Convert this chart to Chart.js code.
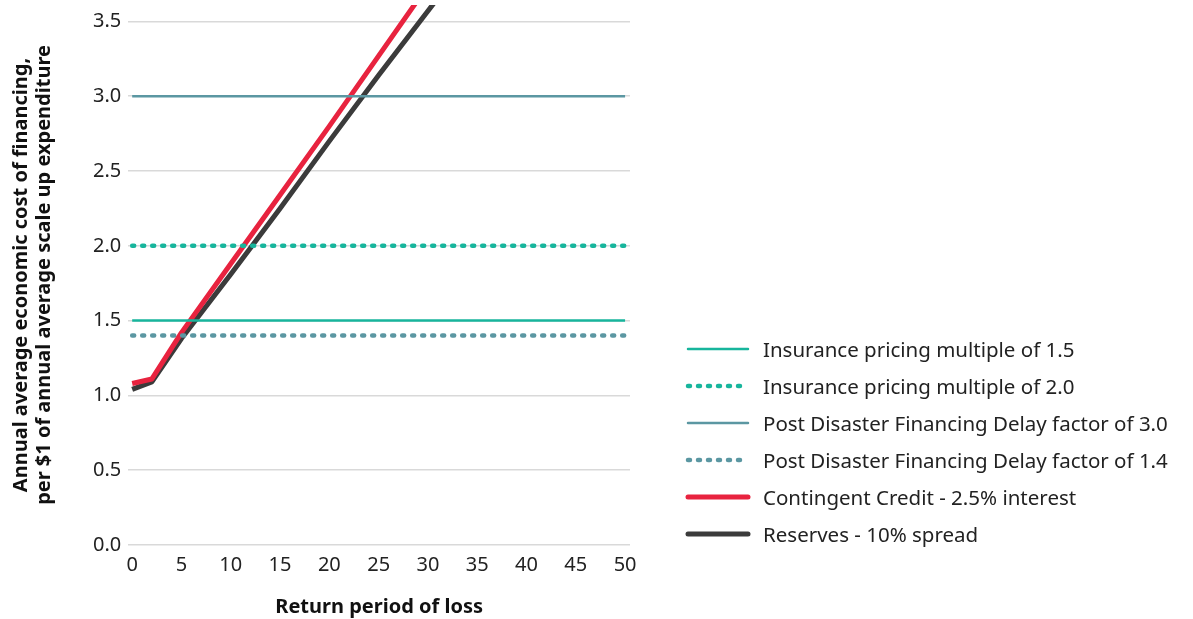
<!DOCTYPE html>
<html>
<head>
<meta charset="utf-8">
<script src="https://cdn.jsdelivr.net/npm/chart.js@4/dist/chart.umd.min.js"></script>
<style>
  body { margin: 0; background: #fff; }
  #wrap { position: relative; width: 1193px; height: 619px; }
  #legend { position: absolute; left: 685px; top: 330px; font-family: "Noto Sans", sans-serif; font-size: 20.5px; color: #222; }
  .item { height: 37px; display: flex; align-items: center; }
  .item svg { width: 66px; height: 10px; margin-right: 12px; }
</style>
</head>
<body>
<div id="wrap">
  <canvas id="myChart"></canvas>
  <div id="legend"></div>
</div>
<script>
// return periods (years) for the two financing curves
var returnPeriods = [0, 2, 5, 10, 15, 20, 25, 30, 35];
var contingentCredit = [1.08, 1.11, 1.42, 1.88, 2.34, 2.80, 3.27, 3.74, 4.20];
var reserves = [1.04, 1.09, 1.38, 1.81, 2.25, 2.70, 3.14, 3.57, 4.00];

// flat benchmarks
var flatRange = [0, 50];
var insurance15 = 1.5;
var insurance20 = 2.0;
var delay30 = 3.0;
var delay14 = 1.4;

var xTicks = [0, 5, 10, 15, 20, 25, 30, 35, 40, 45, 50];
var yTicks = [0, 0.5, 1.0, 1.5, 2.0, 2.5, 3.0, 3.5];

var seriesNames = [
  "Insurance pricing multiple of 1.5",
  "Insurance pricing multiple of 2.0",
  "Post Disaster Financing Delay factor of 3.0",
  "Post Disaster Financing Delay factor of 1.4",
  "Contingent Credit - 2.5% interest",
  "Reserves - 10% spread"
];

var TEAL = "#17b59c";
var SLATE = "#5b97a2";
var RED = "#e8233f";
var DARK = "#3b3b3b";

function toPoints(xs, ys) {
  return xs.map(function(x, i) { return {x: x, y: ys[i]}; });
}

function flatLine(value) {
  return flatRange.map(function(x) { return {x: x, y: value}; });
}

var styles = [
  {color: TEAL, width: 2.5, dash: []},
  {color: TEAL, width: 4.5, dash: [2, 8]},
  {color: SLATE, width: 2.5, dash: []},
  {color: SLATE, width: 4.5, dash: [2, 8]},
  {color: RED, width: 5, dash: []},
  {color: DARK, width: 5, dash: []}
];

var seriesData = [
  flatLine(insurance15),
  flatLine(insurance20),
  flatLine(delay30),
  flatLine(delay14),
  toPoints(returnPeriods, contingentCredit),
  toPoints(returnPeriods, reserves)
];

function buildDatasets() {
  return seriesData.map(function(d, i) {
    return {
      label: seriesNames[i],
      data: d,
      borderColor: styles[i].color,
      backgroundColor: styles[i].color,
      borderWidth: styles[i].width,
      borderDash: styles[i].dash,
      borderCapStyle: styles[i].dash.length ? "round" : "butt",
      borderJoinStyle: "round",
      pointRadius: 0,
      tension: 0,
      fill: false
    };
  });
}

function buildLegend() {
  var box = document.getElementById("legend");
  seriesNames.forEach(function(name, i) {
    var s = styles[i];
    var dash = s.dash.length ? ' stroke-dasharray="' + s.dash.join(",") + '" stroke-linecap="round"' : ' stroke-linecap="round"';
    var row = document.createElement("div");
    row.className = "item";
    row.innerHTML = '<svg><line x1="3" y1="5" x2="63" y2="5" stroke="' + s.color +
      '" stroke-width="' + s.width + '"' + dash + '/></svg><span>' + name + '</span>';
    box.appendChild(row);
  });
}

function createLineChart(ctxElementId) {
  var ctx = document.getElementById(ctxElementId);
  var font = {family: "'Noto Sans', sans-serif", size: 20};
  var titleFont = {family: "'Noto Sans', sans-serif", size: 20, weight: "bold", lineHeight: 1.15};
  return new Chart(ctx, {
    type: "line",
    data: { datasets: buildDatasets() },
    options: {
      responsive: true,
      maintainAspectRatio: false,
      animation: false,
      layout: { padding: {left: 10, right: 563, top: 5, bottom: 0} },
      plugins: { legend: {display: false}, tooltip: {enabled: false} },
      scales: {
        x: {
          type: "linear",
          min: -0.4,
          max: 50.5,
          afterBuildTicks: function(scale) {
            scale.ticks = xTicks.map(function(v) { return {value: v}; });
          },
          grid: {display: false},
          border: {display: false},
          ticks: {color: "#222", font: font, padding: 0, maxRotation: 0},
          title: {display: true, text: "Return period of loss", color: "#111", font: titleFont, padding: {top: 19, bottom: 0}}
        },
        y: {
          min: 0,
          max: 3.61,
          afterBuildTicks: function(scale) {
            scale.ticks = yTicks.map(function(v) { return {value: v}; });
          },
          afterFit: function(scale) {
            // the top tick sits below the plot edge, so no label room needed
            scale.paddingTop = 0;
          },
          grid: {color: "#d9d9d9", lineWidth: 1.5, drawTicks: false},
          border: {display: false},
          ticks: {
            color: "#222", font: font, padding: 7,
            callback: function(v) { return v.toFixed(1); }
          },
          title: {
            display: true,
            text: ["Annual average economic cost of financing,", "per $1 of annual average scale up expenditure"],
            color: "#111", font: titleFont, padding: {top: 0, bottom: 30}
          }
        }
      }
    }
  });
}

buildLegend();
createLineChart("myChart");
</script>
</body>
</html>
